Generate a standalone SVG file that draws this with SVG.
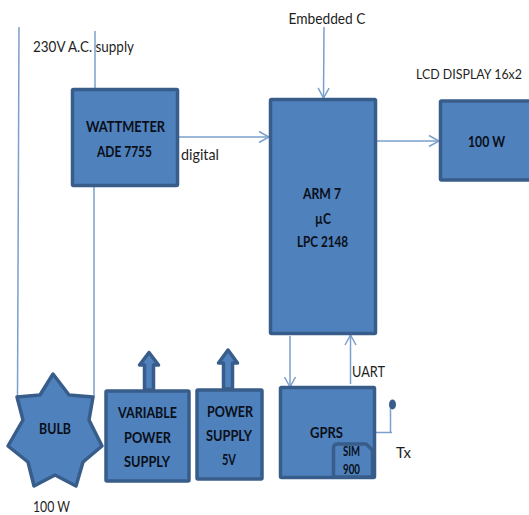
<svg xmlns="http://www.w3.org/2000/svg" width="529" height="515" viewBox="0 0 529 515">
<style>
.box{fill:#4f81bd;stroke:#385d8a;stroke-width:3.500;stroke-linejoin:round}
.ln{fill:none;stroke:#7ba0cd;stroke-width:1.500}
.t{font-family:Lato,"Liberation Sans",sans-serif;font-size:16px;fill:#1f1f1f}
.b{font-family:Lato,"Liberation Sans",sans-serif;font-size:16px;font-weight:700;fill:#0a0f18;text-anchor:middle}
.s{font-size:14px}
.n{font-size:13px}
</style>
<defs>
<marker id="a" markerUnits="userSpaceOnUse" markerWidth="14" markerHeight="16" refX="11" refY="7" orient="auto"><path d="M1 1.500L11 7L1 12.500" fill="none" stroke="#7ba0cd" stroke-width="1.500"/></marker>
</defs>
<rect width="529" height="515" fill="#fff"/>
<g id="connectors">
<path class="ln" d="M19 27L17.500 397"/>
<path class="ln" d="M95 31V89"/>
<path class="ln" d="M94 187V397"/>
<path class="ln" d="M179 137H269" marker-end="url(#a)"/>
<path class="ln" d="M324 27L323.500 98" marker-end="url(#a)"/>
<path class="ln" d="M376 141H439" marker-end="url(#a)"/>
<path class="ln" d="M290 336V387" marker-end="url(#a)"/>
<path class="ln" d="M350.500 384V335" marker-end="url(#a)"/>
<path class="ln" d="M375 432.500H392M390.500 432.500V406"/>
<ellipse cx="392.500" cy="404.500" rx="3.500" ry="5" fill="#385d8a"/>
</g>
<g id="wattmeter"><rect class="box" x="72.500" y="89.500" width="105" height="96" rx="1"/><text class="b" x="125.500" y="132" textLength="79" lengthAdjust="spacingAndGlyphs">WATTMETER</text><text class="b" x="124.500" y="157" textLength="55" lengthAdjust="spacingAndGlyphs">ADE 7755</text></g>
<g id="arm"><rect class="box" x="270.500" y="99.500" width="105" height="234" rx="1"/><text class="b" x="322" y="199" textLength="38" lengthAdjust="spacingAndGlyphs">ARM 7</text><text class="b" x="323" y="224" textLength="16" lengthAdjust="spacingAndGlyphs">µC</text><text class="b" x="322.500" y="247" textLength="51" lengthAdjust="spacingAndGlyphs">LPC 2148</text></g>
<g id="lcd"><rect class="box" x="440.500" y="101" width="92" height="79" rx="1"/><text class="b" x="486.500" y="147" textLength="37" lengthAdjust="spacingAndGlyphs">100 W</text></g>
<g id="bulb"><path class="box" d="M53 374L69 395L93 397L89 420L102 446L83 462L76 486L55 475L34 486L28 462L8 446L23 420L17 397L40 395Z"/><text class="b" x="55" y="434" textLength="32" lengthAdjust="spacingAndGlyphs">BULB</text></g>
<g id="variable-supply"><path class="box" d="M144.500 390V365H139.500L149 352.500L158.500 365H153.500V390Z"/><rect class="box" x="106" y="391" width="83" height="90" rx="1"/><text class="b" x="147.500" y="418" textLength="59" lengthAdjust="spacingAndGlyphs">VARIABLE</text><text class="b" x="147.500" y="443" textLength="47" lengthAdjust="spacingAndGlyphs">POWER</text><text class="b" x="147" y="467" textLength="46" lengthAdjust="spacingAndGlyphs">SUPPLY</text></g>
<g id="power-supply"><path class="box" d="M223.500 389V363H218.500L228 350L237.500 363H232.500V389Z"/><rect class="box" x="197" y="390" width="65" height="89" rx="1"/><text class="b" x="230" y="417" textLength="46" lengthAdjust="spacingAndGlyphs">POWER</text><text class="b" x="229" y="441" textLength="46" lengthAdjust="spacingAndGlyphs">SUPPLY</text><text class="b" x="229" y="465" textLength="14" lengthAdjust="spacingAndGlyphs">5V</text></g>
<g id="gprs"><rect class="box" x="280.500" y="387.500" width="94" height="90" rx="1"/><text class="b" x="326.500" y="438" textLength="33" lengthAdjust="spacingAndGlyphs">GPRS</text><path class="box" d="M333.500 477V448Q333.500 444 338 444H366L372.500 450V477Z"/><text class="b s" x="351.500" y="456" textLength="17" lengthAdjust="spacingAndGlyphs">SIM</text><text class="b s" x="351.500" y="474" textLength="17" lengthAdjust="spacingAndGlyphs">900</text></g>
<g id="labels">
<text class="t" x="33" y="52" textLength="101" lengthAdjust="spacingAndGlyphs">230V A.C. supply</text>
<text class="t" x="181" y="160" textLength="38" lengthAdjust="spacingAndGlyphs">digital</text>
<text class="t" x="288.500" y="24" textLength="77" lengthAdjust="spacingAndGlyphs">Embedded C</text>
<text class="t n" x="416" y="79" textLength="106" lengthAdjust="spacingAndGlyphs">LCD DISPLAY 16x2</text>
<text class="t" x="352" y="377" textLength="33" lengthAdjust="spacingAndGlyphs">UART</text>
<text class="t" x="396" y="458" textLength="15" lengthAdjust="spacingAndGlyphs">Tx</text>
<text class="t" x="33" y="512" textLength="37" lengthAdjust="spacingAndGlyphs">100 W</text>
</g>
</svg>
